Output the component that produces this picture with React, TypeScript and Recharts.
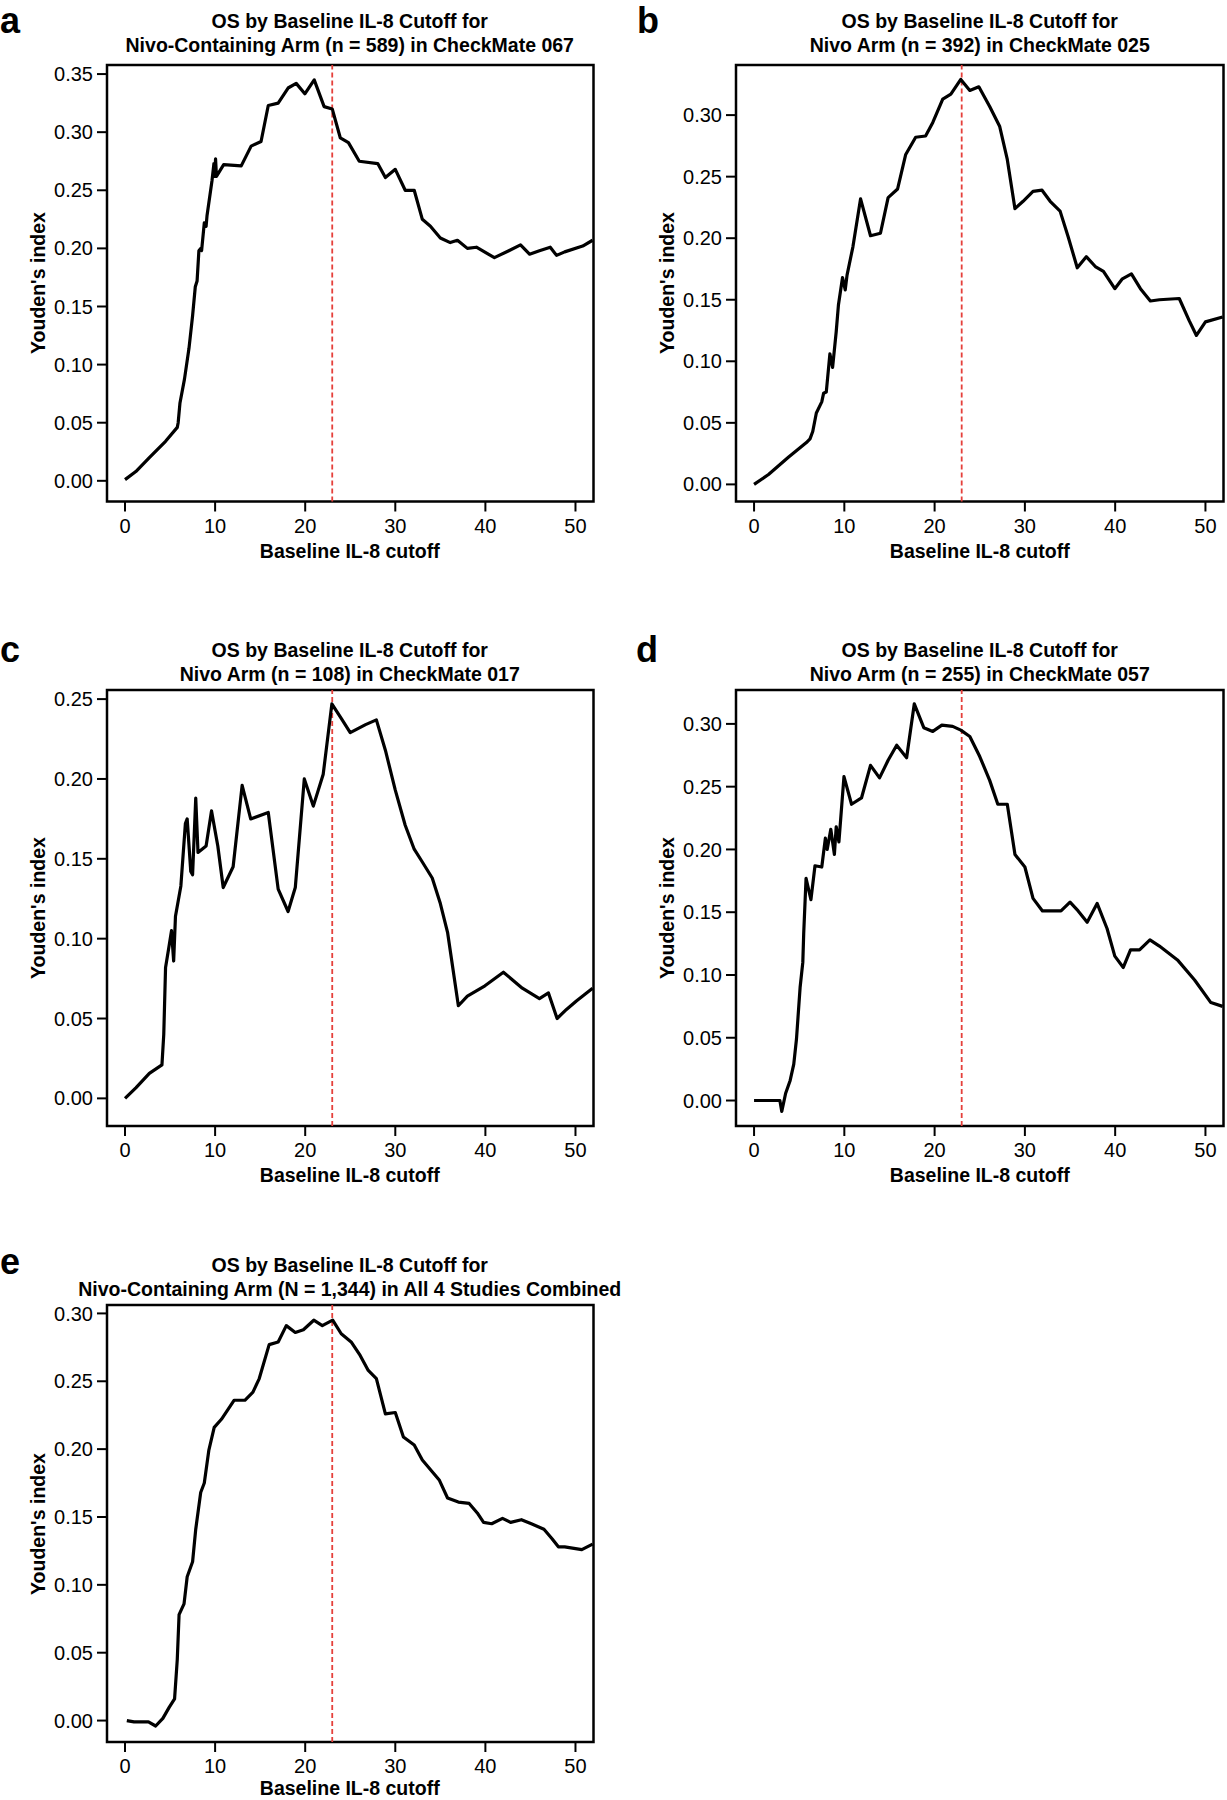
import { LineChart, Line, XAxis, YAxis, ReferenceLine, ReferenceArea } from "recharts";

const FONT = '"Liberation Sans", Arial, Helvetica, sans-serif';

const cutoffTicks = [0, 10, 20, 30, 40, 50];
const cutoffDomain: [number, number] = [-2, 52];
const bestCutoff = 23;

const panelLetters = ["a", "b", "c", "d", "e"];
const titleLine1 = "OS by Baseline IL-8 Cutoff for";
const titleLine2 = [
  "Nivo-Containing Arm (n = 589) in CheckMate 067",
  "Nivo Arm (n = 392) in CheckMate 025",
  "Nivo Arm (n = 108) in CheckMate 017",
  "Nivo Arm (n = 255) in CheckMate 057",
  "Nivo-Containing Arm (N = 1,344) in All 4 Studies Combined",
];
const xTitle = "Baseline IL-8 cutoff";
const yTitle = "Youden's index";

const yTicks = [
  [0, 0.05, 0.1, 0.15, 0.2, 0.25, 0.3, 0.35],
  [0, 0.05, 0.1, 0.15, 0.2, 0.25, 0.3],
  [0, 0.05, 0.1, 0.15, 0.2, 0.25],
  [0, 0.05, 0.1, 0.15, 0.2, 0.25, 0.3],
  [0, 0.05, 0.1, 0.15, 0.2, 0.25, 0.3],
];
const yDomains: [number, number][] = [
  [-0.0178, 0.3578],
  [-0.0139, 0.3407],
  [-0.0173, 0.2557],
  [-0.0203, 0.327],
  [-0.0158, 0.3062],
];

// [cutoff, Youden's index]
const youdenA: [number, number][] = [
  [0, 0.001], [1.2, 0.008], [2.7, 0.02], [4.5, 0.034], [5.8, 0.046], [5.9, 0.05],
  [6.1, 0.067], [6.6, 0.0875], [7.1, 0.114], [7.5, 0.142], [7.8, 0.167], [8.0, 0.172],
  [8.2, 0.198], [8.4, 0.2], [8.5, 0.198], [8.8, 0.222], [9.0, 0.219], [9.1, 0.228],
  [9.65, 0.258], [9.87, 0.273], [9.95, 0.262], [10.05, 0.277], [10.15, 0.262], [10.95, 0.272],
  [12.9, 0.271], [14.0, 0.288], [15.1, 0.292], [15.9, 0.323], [17.0, 0.325], [18.1, 0.338],
  [19.0, 0.342], [19.96, 0.333], [21.0, 0.345], [22.1, 0.322], [23.0, 0.32], [23.9, 0.295],
  [24.8, 0.291], [26.0, 0.275], [28.05, 0.273], [28.9, 0.261], [30.0, 0.268], [31.1, 0.25],
  [32.1, 0.25], [33.0, 0.225], [33.9, 0.219], [35.0, 0.209], [36.1, 0.205], [36.9, 0.207],
  [38.0, 0.2], [39.0, 0.201], [41.0, 0.192], [42.6, 0.198], [43.9, 0.203], [44.9, 0.195],
  [46.0, 0.198], [47.2, 0.201], [47.9, 0.194], [48.8, 0.197], [50.8, 0.202], [51.9, 0.207],
];

const youdenB: [number, number][] = [
  [0, 0], [1.6, 0.008], [3.8, 0.022], [5.8, 0.034], [6.2, 0.037], [6.5, 0.043],
  [6.9, 0.058], [7.5, 0.067], [7.7, 0.074], [8.0, 0.075], [8.4, 0.106], [8.7, 0.095],
  [9.1, 0.124], [9.35, 0.146], [9.8, 0.168], [10.1, 0.158], [10.3, 0.17], [10.95, 0.193],
  [11.8, 0.232], [12.9, 0.202], [14.0, 0.204], [14.85, 0.233], [15.9, 0.24], [16.8, 0.268],
  [17.9, 0.282], [19.0, 0.283], [19.8, 0.294], [20.9, 0.313], [21.8, 0.317], [22.9, 0.329],
  [23.9, 0.32], [24.9, 0.323], [26.1, 0.307], [27.2, 0.291], [28.05, 0.264], [28.9, 0.224],
  [29.8, 0.23], [30.9, 0.238], [31.9, 0.239], [32.8, 0.23], [33.9, 0.222], [34.8, 0.201],
  [35.8, 0.176], [36.8, 0.185], [37.8, 0.177], [38.7, 0.173], [39.96, 0.159], [40.8, 0.167],
  [41.8, 0.171], [42.8, 0.159], [43.9, 0.149], [44.9, 0.15], [47.1, 0.151], [48.2, 0.133],
  [49.0, 0.121], [50.0, 0.132], [51.9, 0.136],
];

const youdenC: [number, number][] = [
  [0, 0], [1.2, 0.0066], [2.7, 0.0157], [4.1, 0.021], [4.3, 0.04], [4.5, 0.082],
  [4.85, 0.094], [5.16, 0.105], [5.4, 0.086], [5.6, 0.114], [6.2, 0.133], [6.7, 0.172],
  [6.9, 0.175], [7.3, 0.142], [7.5, 0.14], [7.85, 0.188], [8.1, 0.154], [9.0, 0.158],
  [9.6, 0.18], [10.3, 0.158], [10.9, 0.132], [12.0, 0.145], [13.0, 0.196], [13.95, 0.175],
  [15.9, 0.179], [17.0, 0.131], [18.1, 0.117], [18.9, 0.132], [19.9, 0.2], [20.9, 0.183],
  [22.0, 0.203], [22.96, 0.247], [24.0, 0.238], [25.0, 0.229], [26.7, 0.234], [27.9, 0.237],
  [28.9, 0.218], [30.0, 0.193], [31.1, 0.171], [32.1, 0.156], [33.0, 0.148], [34.1, 0.138],
  [35.0, 0.122], [35.8, 0.104], [37.0, 0.058], [38.0, 0.064], [39.95, 0.0705], [42.0, 0.079],
  [44.1, 0.069], [46.0, 0.0625], [47.0, 0.066], [47.96, 0.05], [49.0, 0.0557], [50.1, 0.061],
  [51.9, 0.069],
];

const youdenD: [number, number][] = [
  [0, 0], [2.86, 0], [3.07, -0.0087], [3.5, 0.0058], [4.0, 0.016], [4.4, 0.029],
  [4.7, 0.049], [5.1, 0.09], [5.4, 0.11], [5.5, 0.133], [5.76, 0.177], [6.3, 0.16],
  [6.75, 0.187], [7.5, 0.186], [7.9, 0.209], [8.1, 0.2], [8.5, 0.216], [8.9, 0.196],
  [9.1, 0.218], [9.4, 0.206], [9.96, 0.258], [10.8, 0.236], [11.9, 0.241], [12.9, 0.267],
  [13.9, 0.257], [14.85, 0.271], [15.8, 0.283], [16.9, 0.273], [17.75, 0.316], [18.8, 0.297],
  [19.8, 0.294], [20.8, 0.299], [22.0, 0.298], [22.9, 0.295], [23.9, 0.29], [25.0, 0.274],
  [26.1, 0.255], [27.0, 0.236], [28.05, 0.236], [28.9, 0.196], [30.0, 0.186], [30.9, 0.161],
  [31.95, 0.151], [34.0, 0.151], [35.0, 0.158], [35.9, 0.151], [36.9, 0.142], [38.0, 0.157],
  [39.1, 0.137], [39.96, 0.115], [40.9, 0.106], [41.7, 0.12], [42.7, 0.12], [43.85, 0.128],
  [44.9, 0.123], [46.9, 0.112], [48.8, 0.096], [50.6, 0.078], [51.9, 0.075],
];

const youdenE: [number, number][] = [
  [0.2, 0], [1.0, -0.001], [2.6, -0.001], [3.4, -0.004], [4.2, 0.0016], [4.9, 0.0097],
  [5.5, 0.016], [5.8, 0.045], [6.0, 0.078], [6.55, 0.086], [6.9, 0.106], [7.5, 0.117],
  [7.85, 0.141], [8.4, 0.168], [8.8, 0.175], [9.3, 0.199], [9.9, 0.216], [10.7, 0.222],
  [12.1, 0.236], [13.3, 0.236], [14.2, 0.242], [14.9, 0.252], [16.0, 0.277], [17.0, 0.279],
  [17.9, 0.291], [18.9, 0.286], [19.8, 0.288], [20.95, 0.295], [21.9, 0.291], [23.05, 0.295],
  [24.0, 0.285], [25.1, 0.279], [26.1, 0.269], [27.0, 0.258], [27.9, 0.252], [28.9, 0.226],
  [30.0, 0.227], [30.9, 0.209], [32.1, 0.203], [33.0, 0.192], [34.9, 0.177], [35.8, 0.164],
  [37.0, 0.161], [38.2, 0.16], [39.1, 0.153], [39.8, 0.146], [40.7, 0.145], [41.9, 0.149],
  [42.8, 0.146], [44.0, 0.148], [45.1, 0.145], [46.5, 0.141], [47.4, 0.134], [48.1, 0.128],
  [48.8, 0.128], [50.7, 0.126], [51.9, 0.13],
];

const series = [youdenA, youdenB, youdenC, youdenD, youdenE];

// plot box in page pixels, plus title / letter / x-title placement
const layout = [
  { left: 106.5, right: 593, top: 65, bottom: 501.5, titleTop: 9, letterTop: 2.5, letterLeft: 0, xTitleGap: 50 },
  { left: 736, right: 1223.5, top: 65, bottom: 501.5, titleTop: 9, letterTop: 2.5, letterLeft: 637, xTitleGap: 50 },
  { left: 106.5, right: 593, top: 690, bottom: 1126, titleTop: 638, letterTop: 631.5, letterLeft: 0, xTitleGap: 50 },
  { left: 736, right: 1223.5, top: 690, bottom: 1126, titleTop: 638, letterTop: 631.5, letterLeft: 636, xTitleGap: 50 },
  { left: 106.5, right: 593, top: 1305, bottom: 1742, titleTop: 1253, letterTop: 1243.5, letterLeft: 0, xTitleGap: 46.5 },
];

const Y_AXIS_W = 90;
const X_AXIS_H = 40;
const PAD = 4;

function Panel({ i }: { i: number }) {
  const L = layout[i];
  const w = L.right - L.left;
  const h = L.bottom - L.top;
  const data = series[i].map(([x, y]) => ({ x, y }));
  const cx = (L.left + L.right) / 2;
  const tickStyle = { fill: "#000", fontSize: 20 };

  return (
    <>
      <div style={{ position: "absolute", left: L.letterLeft, top: L.letterTop, fontSize: 36, lineHeight: "36px", fontWeight: "bold" }}>
        {panelLetters[i]}
      </div>
      <div
        style={{
          position: "absolute",
          left: cx - 400,
          width: 800,
          top: L.titleTop,
          textAlign: "center",
          fontSize: 19.5,
          lineHeight: "24px",
          fontWeight: "bold",
          whiteSpace: "nowrap",
        }}
      >
        <div>{titleLine1}</div>
        <div>{titleLine2[i]}</div>
      </div>
      <div style={{ position: "absolute", left: L.left - Y_AXIS_W, top: L.top - PAD }}>
        <LineChart
          width={w + Y_AXIS_W + 3}
          height={h + PAD + X_AXIS_H}
          data={data}
          margin={{ top: PAD, right: 3, bottom: 0, left: 0 }}
        >
          <XAxis
            type="number"
            dataKey="x"
            domain={cutoffDomain}
            allowDataOverflow
            ticks={cutoffTicks}
            interval={0}
            axisLine={false}
            tickSize={10}
            tickMargin={7}
            height={X_AXIS_H}
            tick={tickStyle}
            tickLine={{ stroke: "#000", strokeWidth: 2 }}
          />
          <YAxis
            type="number"
            domain={yDomains[i]}
            allowDataOverflow
            ticks={yTicks[i]}
            interval={0}
            width={Y_AXIS_W}
            axisLine={false}
            tickSize={10}
            tickMargin={4}
            tick={tickStyle}
            tickLine={{ stroke: "#000", strokeWidth: 2 }}
            tickFormatter={(v: number) => v.toFixed(2)}
          />
          <ReferenceLine x={bestCutoff} stroke="#e5403b" strokeWidth={1.8} strokeDasharray="5 3" />
          <Line
            type="linear"
            dataKey="y"
            stroke="#000"
            strokeWidth={3.2}
            strokeLinejoin="round"
            dot={false}
            isAnimationActive={false}
          />
          <ReferenceArea
            x1={cutoffDomain[0]}
            x2={cutoffDomain[1]}
            y1={yDomains[i][0]}
            y2={yDomains[i][1]}
            fill="none"
            fillOpacity={0}
            stroke="#000"
            strokeWidth={2.5}
          />
        </LineChart>
      </div>
      <div
        style={{
          position: "absolute",
          left: L.left - 68,
          top: (L.top + L.bottom) / 2,
          transform: "translate(-50%, -50%) rotate(-90deg)",
          fontSize: 19.5,
          lineHeight: 1,
          fontWeight: "bold",
          whiteSpace: "nowrap",
        }}
      >
        {yTitle}
      </div>
      <div
        style={{
          position: "absolute",
          left: cx,
          top: L.bottom + L.xTitleGap,
          transform: "translate(-50%, -50%)",
          fontSize: 19.5,
          lineHeight: 1,
          fontWeight: "bold",
          whiteSpace: "nowrap",
        }}
      >
        {xTitle}
      </div>
    </>
  );
}

export default function App() {
  return (
    <div
      style={{
        position: "absolute",
        left: 0,
        top: 0,
        width: 1227,
        height: 1800,
        overflow: "hidden",
        background: "#fff",
        fontFamily: FONT,
        color: "#000",
      }}
    >
      {layout.map((_, i) => (
        <Panel key={i} i={i} />
      ))}
    </div>
  );
}
